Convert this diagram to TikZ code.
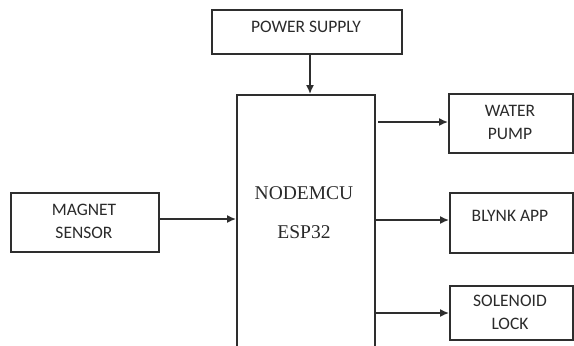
\documentclass[tikz,border=0pt]{standalone}
\usepackage{fontspec}
\setmainfont{Liberation Serif}
\newfontfamily\boxfont{Carlito}
\usetikzlibrary{arrows.meta}
\definecolor{linec}{HTML}{2E2E2E}
\definecolor{textc}{HTML}{2A2A2A}
\tikzset{
  blk/.style={draw=linec, line width=1.5pt, rectangle, inner sep=0pt},
  lbl/.style={text=textc, font=\boxfont\fontsize{17.5}{23}\selectfont, align=center},
  conn/.style={draw=linec, line width=1.5pt, -{Latex[length=9pt,width=8pt]}}
}
\begin{document}
\begin{tikzpicture}[x=1pt,y=-1pt]
\useasboundingbox (0,0) rectangle (574,346);
\begin{scope}
\clip (0,0) rectangle (574,346);
\node[blk, minimum width=190pt, minimum height=44pt, anchor=north west] (ps) at (211,9) {};
\node[lbl] (pstext) at (306,27) {POWER SUPPLY};
\node[blk, minimum width=138pt, minimum height=270pt, anchor=north west] (esp) at (236,94) {};
\node[text=textc, font=\fontsize{19.5}{39}\selectfont, align=center] (esptext) at (304,213) {NODEMCU\\ESP32};
\node[blk, minimum width=124pt, minimum height=59pt, anchor=north west] (wp) at (448,93) {};
\node[lbl] (wptext) at (510,122) {WATER\\PUMP};
\node[blk, minimum width=123pt, minimum height=60pt, anchor=north west] (bl) at (449,192) {};
\node[lbl] (bltext) at (510,216) {BLYNK APP};
\node[blk, minimum width=123pt, minimum height=54pt, anchor=north west] (sl) at (449,285) {};
\node[lbl] (sltext) at (510,312) {SOLENOID\\LOCK};
\node[blk, minimum width=148pt, minimum height=59pt, anchor=north west] (ms) at (10,192) {};
\node[lbl] (mstext) at (84,221) {MAGNET\\SENSOR};
\coordinate (wpstart) at (378,122);
\draw[conn] (ps.south -| 310,0) -- (esp.north -| 310,0);
\draw[conn] (wpstart) -- (wpstart -| wp.west);
\draw[conn] (esp.east |- 0,220) -- (bl.west |- 0,220);
\draw[conn] (esp.east |- 0,313) -- (sl.west |- 0,313);
\draw[conn] (ms.east |- 0,219) -- (esp.west |- 0,219);
\end{scope}
\end{tikzpicture}
\end{document}
